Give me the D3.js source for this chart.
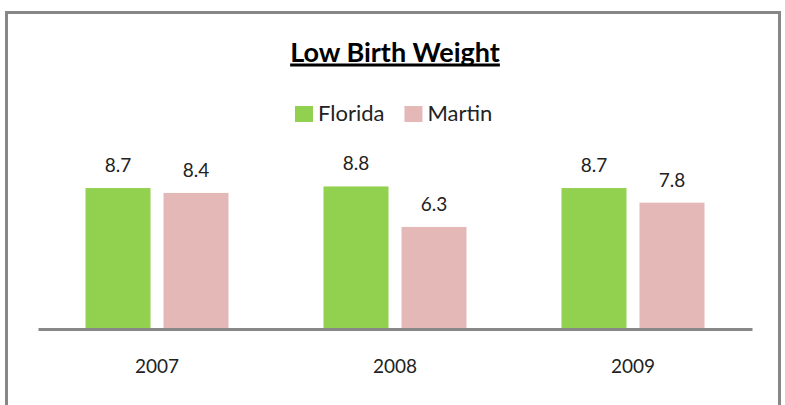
<!DOCTYPE html>
<html>
<head>
<meta charset="utf-8">
<script src="https://cdn.jsdelivr.net/npm/d3@7"></script>
<style>
  body { margin: 0; background: #fff; }
  svg { display: block; font-family: Lato, "Liberation Sans", sans-serif; }
</style>
</head>
<body>
<div id="chart"></div>
<script>
const years = ['2007', '2008', '2009'];
const seriesNames = ['Florida', 'Martin'];
const florida = [8.7, 8.8, 8.7];
const martin = [8.4, 6.3, 7.8];

const SERIES_COLORS = { Florida: '#92d050', Martin: '#e5b8b8' };

const width = 785, height = 405;
const svg = d3.select('#chart').append('svg')
  .attr('width', width).attr('height', height);

// outer frame (bottom edge runs past the picture)
svg.append('rect')
  .attr('x', 6.5).attr('y', 12.5)
  .attr('width', 773).attr('height', 430)
  .attr('fill', 'none').attr('stroke', '#878787').attr('stroke-width', 3);

const title = svg.append('text')
  .attr('x', 395).attr('y', 62)
  .attr('text-anchor', 'middle')
  .style('font-size', '27px').style('font-weight', 'bold')
  .attr('fill', '#000')
  .text('Low Birth Weight');
const tw = title.node().getComputedTextLength();
svg.append('line')
  .attr('x1', 395 - tw / 2).attr('x2', 395 + tw / 2)
  .attr('y1', 65).attr('y2', 65)
  .attr('stroke', '#000').attr('stroke-width', 3);

// legend
const legend = svg.append('g').attr('transform', 'translate(295,106)');
let lx = 0;
seriesNames.forEach(name => {
  const g = legend.append('g').attr('transform', `translate(${lx},0)`);
  g.append('rect').attr('width', 18).attr('height', 16).attr('fill', SERIES_COLORS[name]);
  const t = g.append('text').attr('x', 23).attr('y', 15)
    .style('font-size', '22px').attr('fill', '#222').text(name);
  lx += 23 + t.node().getComputedTextLength() + 20;
});

const baseline = 329;
const x0 = d3.scaleBand().domain(years).range([38, 752]);
const x1 = d3.scaleBand().domain(seriesNames)
  .range([0, x0.bandwidth()]).paddingInner(0.1667).paddingOuter(0.609);
const y = d3.scaleLinear().domain([0, 10]).range([baseline, baseline - 162]);

const rows = years.map((yr, i) => ({ year: yr, values: [
  { key: 'Florida', value: florida[i] },
  { key: 'Martin', value: martin[i] },
]}));

const groups = svg.selectAll('g.year').data(rows).enter().append('g')
  .attr('class', 'year')
  .attr('transform', d => `translate(${x0(d.year)},0)`);

groups.selectAll('rect').data(d => d.values).enter().append('rect')
  .attr('x', d => x1(d.key))
  .attr('y', d => y(d.value))
  .attr('width', x1.bandwidth())
  .attr('height', d => baseline - y(d.value))
  .attr('fill', d => SERIES_COLORS[d.key]);

groups.selectAll('text.val').data(d => d.values).enter().append('text')
  .attr('class', 'val')
  .attr('x', d => x1(d.key) + x1.bandwidth() / 2)
  .attr('y', d => y(d.value) - 16)
  .attr('text-anchor', 'middle')
  .style('font-size', '19px').attr('fill', '#222')
  .text(d => d.value.toFixed(1));

// category axis
const xAxis = svg.append('g').attr('transform', `translate(0,${baseline})`)
  .call(d3.axisBottom(x0).tickSize(0).tickPadding(31));
xAxis.select('.domain').attr('stroke', '#878787').attr('stroke-width', 3);
xAxis.selectAll('text').style('font-size', '19px')
  .style('font-family', 'Lato, "Liberation Sans", sans-serif').attr('fill', '#222');
</script>
</body>
</html>
